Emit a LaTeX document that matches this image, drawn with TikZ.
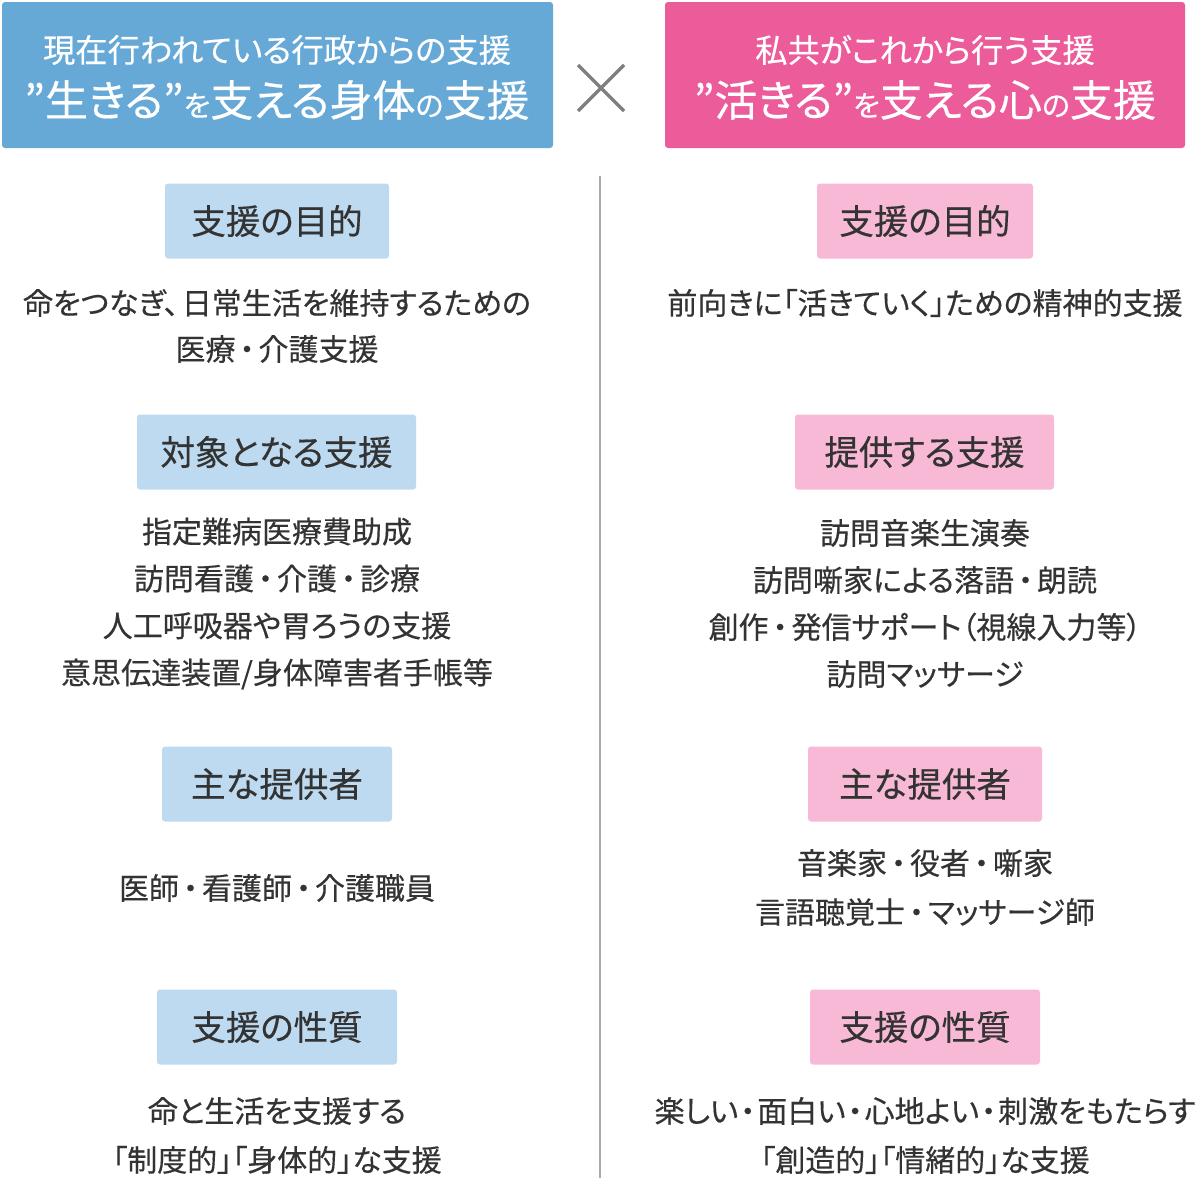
\documentclass[tikz,border=0pt]{standalone}
\usepackage{fontspec}
\setmainfont{Noto Sans CJK JP}[RawFeature=+palt,FakeBold=0.4]
\definecolor{headblue}{HTML}{66A9D7}
\definecolor{headpink}{HTML}{EC5B9A}
\definecolor{lblblue}{HTML}{BDDAF0}
\definecolor{lblpink}{HTML}{F8B9D6}
\definecolor{txt}{HTML}{333333}
\definecolor{xgray}{HTML}{7F7F7F}
\definecolor{divgray}{HTML}{AAAAAA}
\newcommand{\smk}[1]{{\fontsize{29}{29}\selectfont #1}}
\newcommand{\dt}[1][4pt]{\kern#1・\kern#1}

\begin{document}
\begin{tikzpicture}[x=1pt,y=-1pt,head/.style={rectangle,rounded corners=3pt,minimum height=146pt},headtext/.style={text=white,inner sep=0pt},lbl/.style={rectangle,rounded corners=3pt,minimum height=75pt,text=txt,font=\fontsize{34.5}{34.5}\selectfont},body/.style={text=txt,align=center,inner sep=0pt}]
        \useasboundingbox (0,0) rectangle (1200,1178);
        % headers
        \node[head,fill=headblue,minimum width=551pt] (lhead) at (277.5,75) {};
        \node[head,fill=headpink,minimum width=520pt] (rhead) at (925,75) {};
        \node[headtext,font=\fontsize{32.3}{32.3}\selectfont] (lheadA) at (277,50) {現在行われている行政からの支援};
        \node[headtext,font=\fontsize{43}{43}\selectfont] (lheadB) at (277,100) {”生きる”\smk{を}支える身体\smk{の}支援};
        \node[headtext,font=\fontsize{32.3}{32.3}\selectfont] (rheadA) at (925,50) {私共がこれから行う支援};
        \node[headtext,font=\fontsize{43}{43}\selectfont] (rheadB) at (925,100) {”活きる”\smk{を}支える心\smk{の}支援};
        \draw [xgray,line width=3.5pt] (578,65) -- (624,111) (624,65) -- (578,111);
        \draw [divgray,line width=2pt] (600,176) -- (600,1178);
        % left column
        \node[lbl,fill=lblblue,minimum width=224pt] (lgoal) at (277,221) {支援の目的};
        \node[body,font=\fontsize{30}{46}\selectfont] (lgoalt) at (277,326) {命をつなぎ、\kern3pt 日常生活を維持するための\\医療\dt 介護支援};
        \node[lbl,fill=lblblue,minimum width=279pt] (ltarget) at (276.5,452) {対象となる支援};
        \node[body,font=\fontsize{30}{47}\selectfont] (ltargett) at (277,603.5) {指定難病医療費助成\\訪問看護\dt 介護\dt 診療\\人工呼吸器や胃ろうの支援\\意思伝達装置/身体障害者手帳等};
        \node[lbl,fill=lblblue,minimum width=230pt] (lprov) at (277,784) {主な提供者};
        \node[body,font=\fontsize{30}{49}\selectfont] (lprovt) at (277,888) {医師\dt 看護師\dt 介護職員};
        \node[lbl,fill=lblblue,minimum width=240pt] (lkind) at (277,1027) {支援の性質};
        \node[body,font=\fontsize{30}{49}\selectfont] (lkindt) at (277,1135.5) {命と生活を支援する\\「制度的」「身体的」な支援};
        % right column
        \node[lbl,fill=lblpink,minimum width=216pt] (rgoal) at (925,221) {支援の目的};
        \node[body,font=\fontsize{30}{46}\selectfont] (rgoalt) at (925,303) {前向きに「活きていく」ための精神的支援};
        \node[lbl,fill=lblpink,minimum width=259pt] (roffer) at (924.5,452) {提供する支援};
        \node[body,font=\fontsize{30}{47}\selectfont] (roffert) at (925,603.5) {訪問音楽生演奏\\訪問噺家による落語\dt 朗読\\創作\dt 発信サポート（視線入力等）\\訪問マッサージ};
        \node[lbl,fill=lblpink,minimum width=234pt] (rprov) at (925,784) {主な提供者};
        \node[body,font=\fontsize{30}{49}\selectfont] (rprovt) at (925,887.5) {音楽家\dt 役者\dt 噺家\\言語聴覚士\dt マッサージ師};
        \node[lbl,fill=lblpink,minimum width=230pt] (rkind) at (925,1027) {支援の性質};
        \node[body,font=\fontsize{30}{49}\selectfont] (rkindt) at (925,1135.5) {楽しい\dt[2pt]面白い\dt[2pt]心地よい\dt[2pt]刺激をもたらす\\「創造的」「情緒的」な支援};
    \end{tikzpicture}
\end{document}
